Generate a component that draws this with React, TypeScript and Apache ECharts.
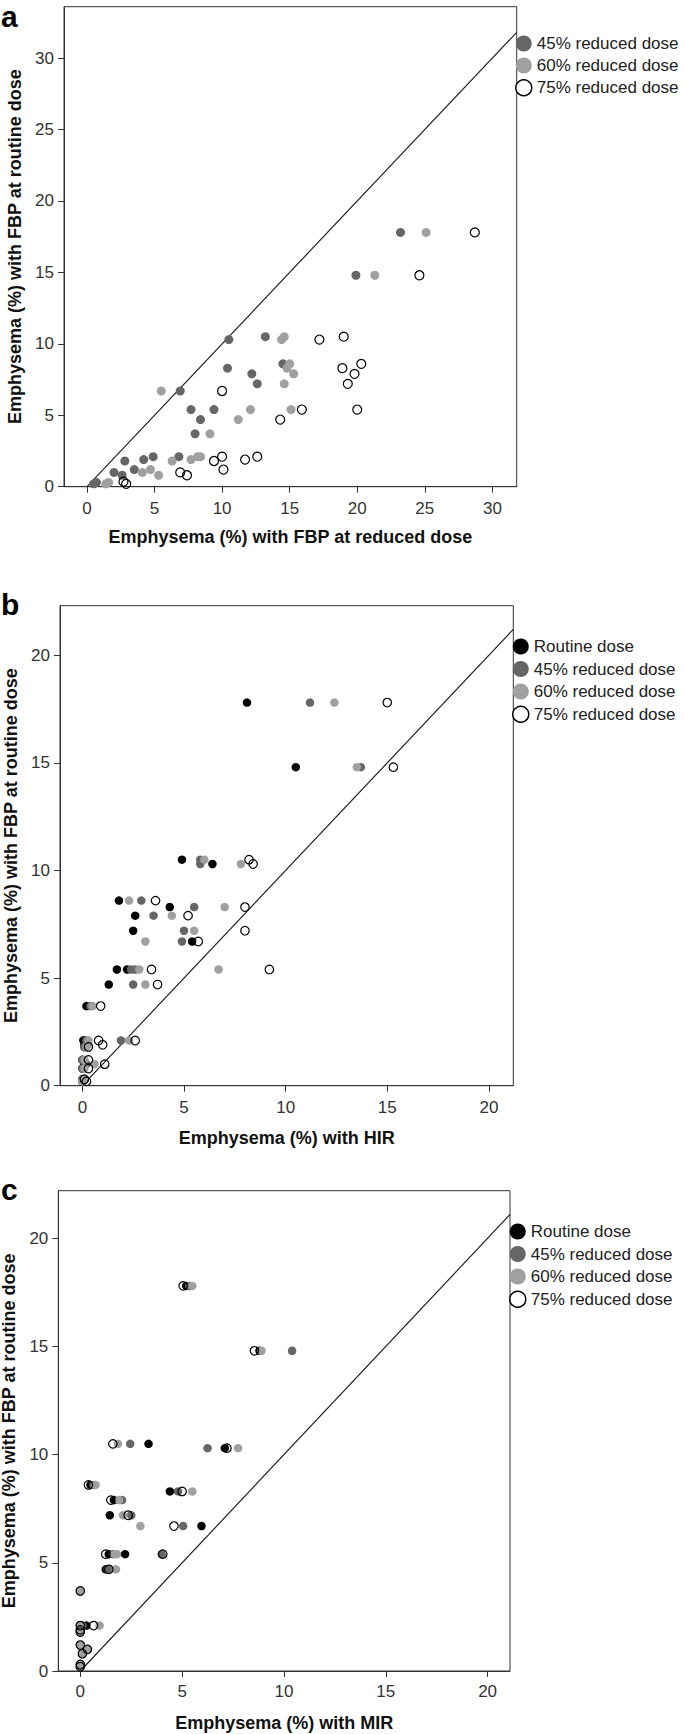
import React, { useEffect, useRef } from "react";
import * as echarts from "echarts";

const FONT = "'Liberation Sans', Arial, Helvetica, sans-serif";

const NAME_ROUTINE = "Routine dose";
const NAME_45 = "45% reduced dose";
const NAME_60 = "60% reduced dose";
const NAME_75 = "75% reduced dose";

// ---------- Panel a: FBP reduced dose (x) vs FBP routine dose (y) ----------
const aTicksX = [0, 5, 10, 15, 20, 25, 30];
const aTicksY = [0, 5, 10, 15, 20, 25, 30];
const aRangeX = [-1.7, 31.8];
const aRangeY = [0, 33.6];
const aDose45 = [
  [23.2, 17.8], [19.9, 14.8], [13.2, 10.5], [10.5, 10.3], [14.5, 8.6], [10.4, 8.3],
  [12.2, 7.9], [12.6, 7.2], [6.9, 6.7], [7.7, 5.4], [9.4, 5.4], [8.4, 4.7], [8.0, 3.7],
  [6.8, 2.1], [4.9, 2.1], [4.2, 1.9], [2.8, 1.8], [3.5, 1.2], [2.0, 1.0], [2.6, 0.8],
  [0.7, 0.3], [0.5, 0.2],
];
const aDose60 = [
  [25.1, 17.8], [21.3, 14.8], [14.6, 10.5], [14.4, 10.3], [15.0, 8.6], [14.8, 8.3],
  [15.3, 7.9], [14.6, 7.2], [5.5, 6.7], [15.1, 5.4], [12.1, 5.4], [11.2, 4.7], [9.1, 3.7],
  [8.4, 2.1], [8.2, 2.1], [7.7, 1.9], [6.3, 1.8], [4.7, 1.2], [4.1, 1.0], [5.3, 0.8],
  [1.6, 0.3], [1.4, 0.2],
];
const aDose75 = [
  [28.7, 17.8], [24.6, 14.8], [19.0, 10.5], [17.2, 10.3], [20.3, 8.6], [18.9, 8.3],
  [19.8, 7.9], [19.3, 7.2], [10.0, 6.7], [20.0, 5.4], [15.9, 5.4], [14.3, 4.7],
  [12.6, 2.1], [10.0, 2.1], [11.7, 1.9], [9.4, 1.8], [10.1, 1.2], [6.9, 1.0], [7.4, 0.8],
  [2.7, 0.35], [2.9, 0.2],
];

// ---------- Panel b: HIR (x) vs FBP routine dose (y) ----------
const bTicksX = [0, 5, 10, 15, 20];
const bTicksY = [0, 5, 10, 15, 20];
const bRangeX = [-1.1, 21.2];
const bRangeY = [0, 22.3];
const bRoutine = [
  [8.1, 17.8], [10.5, 14.8], [4.9, 10.5], [6.4, 10.3], [1.8, 8.6], [4.3, 8.3],
  [2.6, 7.9], [2.5, 7.2], [5.4, 6.7], [1.7, 5.4], [2.2, 5.4], [1.3, 4.7], [0.2, 3.7],
  [0.1, 2.1], [0.05, 2.1], [0.1, 1.9], [0.1, 1.8], [0.0, 1.2], [0.1, 1.0], [0.0, 0.8],
  [0.0, 0.3], [0.0, 0.2],
];
const bDose45 = [
  [11.2, 17.8], [13.7, 14.8], [5.8, 10.5], [5.8, 10.3], [2.9, 8.6], [5.5, 8.3],
  [3.5, 7.9], [5.0, 7.2], [4.9, 6.7], [2.4, 5.4], [2.6, 5.4], [2.5, 4.7], [0.4, 3.7],
  [1.9, 2.1], [0.2, 2.1], [0.2, 1.9], [0.1, 1.8], [0.0, 1.2], [0.2, 1.0], [0.0, 0.8],
  [0.0, 0.3], [0.05, 0.2],
];
const bDose60 = [
  [12.4, 17.8], [13.5, 14.8], [6.0, 10.5], [7.8, 10.3], [2.3, 8.6], [7.0, 8.3],
  [4.4, 7.9], [5.5, 7.2], [3.1, 6.7], [2.8, 5.4], [6.7, 5.4], [3.1, 4.7], [0.5, 3.7],
  [2.3, 2.1], [0.3, 2.1], [0.3, 1.9], [0.2, 1.8], [0.1, 1.2], [0.6, 1.0], [0.1, 0.8],
  [0.05, 0.3], [0.0, 0.2],
];
const bDose75 = [
  [15.0, 17.8], [15.3, 14.8], [8.2, 10.5], [8.4, 10.3], [3.6, 8.6], [8.0, 8.3],
  [5.2, 7.9], [8.0, 7.2], [5.7, 6.7], [3.4, 5.4], [9.2, 5.4], [3.7, 4.7], [0.9, 3.7],
  [2.6, 2.1], [0.8, 2.1], [1.0, 1.9], [0.3, 1.8], [0.3, 1.2], [1.1, 1.0], [0.3, 0.8],
  [0.1, 0.3], [0.2, 0.2],
];

// ---------- Panel c: MIR (x) vs FBP routine dose (y) ----------
const cTicksX = [0, 5, 10, 15, 20];
const cTicksY = [0, 5, 10, 15, 20];
const cRangeX = [-1.08, 21.1];
const cRangeY = [0, 22.2];
const cRoutine = [
  [5.2, 17.8], [8.8, 14.8], [3.35, 10.5], [7.1, 10.3], [0.5, 8.6], [4.4, 8.3],
  [1.65, 7.9], [1.45, 7.2], [5.95, 6.7], [2.2, 5.4], [1.4, 5.4], [1.25, 4.7], [0, 3.7],
  [0.3, 2.1], [0, 2.1], [0, 1.9], [0, 1.8], [0, 1.2], [0.3, 1.0], [0.1, 0.8],
  [0, 0.3], [0, 0.2],
];
const cDose45 = [
  [5.35, 17.8], [10.4, 14.8], [2.45, 10.5], [6.25, 10.3], [0.65, 8.6], [4.8, 8.3],
  [2.05, 7.9], [2.5, 7.2], [5.05, 6.7], [1.6, 5.4], [4.0, 5.4], [1.35, 4.7], [0, 3.7],
  [0.1, 2.1], [0, 2.1], [0, 1.9], [0, 1.8], [0, 1.2], [0.35, 1.0], [0.1, 0.8],
  [0, 0.3], [0, 0.2],
];
const cDose60 = [
  [5.5, 17.8], [8.9, 14.8], [1.85, 10.5], [7.75, 10.3], [0.75, 8.6], [5.5, 8.3],
  [1.9, 7.9], [2.1, 7.2], [2.95, 6.7], [1.8, 5.4], [1.7, 5.4], [1.75, 4.7], [0, 3.7],
  [0.95, 2.1], [0, 2.1], [0, 1.9], [0, 1.8], [0, 1.2], [0.3, 1.0], [0.1, 0.8],
  [0, 0.3], [0, 0.2],
];
const cDose75 = [
  [5.05, 17.8], [8.55, 14.8], [1.6, 10.5], [7.2, 10.3], [0.4, 8.6], [5.0, 8.3],
  [1.5, 7.9], [2.35, 7.2], [4.6, 6.7], [1.25, 5.4], [4.05, 5.4], [1.4, 4.7], [0, 3.7],
  [0.65, 2.1], [0, 2.1], [0, 1.9], [0, 1.8], [0, 1.2], [0.35, 1.0], [0.1, 0.8],
  [0, 0.3], [0, 0.2],
];

const COLORS: Record<string, any> = {
  [NAME_ROUTINE]: { color: "#000000", opacity: 1 },
  [NAME_45]: { color: "#666666", opacity: 1 },
  [NAME_60]: { color: "#a0a0a0", opacity: 1 },
  [NAME_75]: { color: "rgba(255,255,255,0)", borderColor: "#000000", borderWidth: 1.2, opacity: 1 },
};

function xAxis(gridIndex: number, range: number[], ticks: number[], name: string, nameGap: number, margin: number) {
  return {
    type: "value",
    gridIndex,
    min: range[0],
    max: range[1],
    name,
    nameLocation: "middle",
    nameGap,
    nameTextStyle: { fontSize: 18, fontWeight: "bold", color: "#111", fontFamily: FONT },
    axisLine: { show: true, onZero: false, lineStyle: { color: "#333", width: 1 } },
    axisTick: { show: true, length: 6, lineStyle: { color: "#333" }, customValues: ticks },
    axisLabel: { fontSize: 17, color: "#333", fontFamily: FONT, margin, customValues: ticks },
    splitLine: { show: false },
  };
}

function yAxis(gridIndex: number, range: number[], ticks: number[], name: string, nameGap: number) {
  return {
    type: "value",
    gridIndex,
    min: range[0],
    max: range[1],
    name,
    nameLocation: "middle",
    nameRotate: 90,
    nameGap,
    nameTextStyle: { fontSize: 18, fontWeight: "bold", color: "#111", fontFamily: FONT },
    axisLine: { show: true, onZero: false, lineStyle: { color: "#333", width: 1 } },
    axisTick: { show: true, length: 6, lineStyle: { color: "#333" }, customValues: ticks },
    axisLabel: { fontSize: 17, color: "#333", fontFamily: FONT, margin: 10, customValues: ticks },
    splitLine: { show: false },
  };
}

function scatter(name: string, idx: number, data: number[][], size: number) {
  return {
    type: "scatter",
    name,
    xAxisIndex: idx,
    yAxisIndex: idx,
    data,
    symbol: "circle",
    symbolSize: size,
    itemStyle: { ...COLORS[name] },
    emphasis: { disabled: true },
    silent: true,
  };
}

function diagonal(idx: number, range: number[]) {
  const end = range[1];
  return {
    type: "line",
    xAxisIndex: idx,
    yAxisIndex: idx,
    data: [[0, 0], [end, end]],
    symbol: "none",
    lineStyle: { color: "#222", width: 1.2 },
    silent: true,
    z: 1,
  };
}

function legendItem(name: string) {
  const s = COLORS[name];
  if (name === NAME_75) {
    return { name, itemStyle: { color: "#ffffff", borderColor: "#000", borderWidth: 1.5, opacity: 1 } };
  }
  return { name, itemStyle: { color: s.color, borderWidth: 0, opacity: 1 } };
}

function legend(left: number, top: number, names: string[], gap: number) {
  return {
    orient: "vertical",
    left,
    top,
    icon: "circle",
    itemWidth: 16,
    itemHeight: 16,
    itemGap: gap,
    selectedMode: false,
    padding: 0,
    textStyle: { fontSize: 17, color: "#222", fontFamily: FONT },
    data: names.map(legendItem),
  };
}

export default function App() {
  const ref = useRef<HTMLDivElement>(null);
  useEffect(() => {
    if (!ref.current) return;
    const chart = echarts.init(ref.current, undefined, { renderer: "svg" });
    const yTitle = "Emphysema (%) with FBP at routine dose";
    chart.setOption({
      animation: false,
      backgroundColor: "#ffffff",
      grid: [
        { left: 64, top: 6.7, width: 452.7, height: 480, show: true, borderColor: "#333", borderWidth: 1, containLabel: false, outerBoundsMode: "none" },
        { left: 60, top: 605.7, width: 453.3, height: 480, show: true, borderColor: "#333", borderWidth: 1, containLabel: false, outerBoundsMode: "none" },
        { left: 58.3, top: 1190.7, width: 451.7, height: 480.3, show: true, borderColor: "#333", borderWidth: 1, containLabel: false, outerBoundsMode: "none" },
      ],
      xAxis: [
        xAxis(0, aRangeX, aTicksX, "Emphysema (%) with FBP at reduced dose", 41, 13),
        xAxis(1, bRangeX, bTicksX, "Emphysema (%) with HIR", 43, 13),
        xAxis(2, cRangeX, cTicksX, "Emphysema (%) with MIR", 43, 12),
      ],
      yAxis: [
        yAxis(0, aRangeY, aTicksY, yTitle, 40),
        yAxis(1, bRangeY, bTicksY, yTitle, 37),
        yAxis(2, cRangeY, cTicksY, yTitle, 37),
      ],
      legend: [
        legend(515, 35, [NAME_45, NAME_60, NAME_75], 5),
        legend(512, 638, [NAME_ROUTINE, NAME_45, NAME_60, NAME_75], 5.5),
        legend(509, 1223, [NAME_ROUTINE, NAME_45, NAME_60, NAME_75], 5.5),
      ],
      graphic: [
        { type: "text", left: 1, top: 1, style: { text: "a", font: `bold 30px ${FONT}`, fill: "#000" } },
        { type: "text", left: 1, top: 589, style: { text: "b", font: `bold 30px ${FONT}`, fill: "#000" } },
        { type: "text", left: 1, top: 1174, style: { text: "c", font: `bold 30px ${FONT}`, fill: "#000" } },
      ],
      series: [
        diagonal(0, aRangeX),
        scatter(NAME_45, 0, aDose45, 9),
        scatter(NAME_60, 0, aDose60, 9),
        scatter(NAME_75, 0, aDose75, 9),
        diagonal(1, bRangeX),
        scatter(NAME_ROUTINE, 1, bRoutine, 8.5),
        scatter(NAME_45, 1, bDose45, 8.5),
        scatter(NAME_60, 1, bDose60, 8.5),
        scatter(NAME_75, 1, bDose75, 8.5),
        diagonal(2, cRangeX),
        scatter(NAME_ROUTINE, 2, cRoutine, 8.5),
        scatter(NAME_45, 2, cDose45, 8.5),
        scatter(NAME_60, 2, cDose60, 8.5),
        scatter(NAME_75, 2, cDose75, 8.5),
      ],
    });
    return () => chart.dispose();
  }, []);
  return (
    <div
      ref={ref}
      style={{ position: "absolute", left: 0, top: 0, width: 685, height: 1734, background: "#fff" }}
    />
  );
}
